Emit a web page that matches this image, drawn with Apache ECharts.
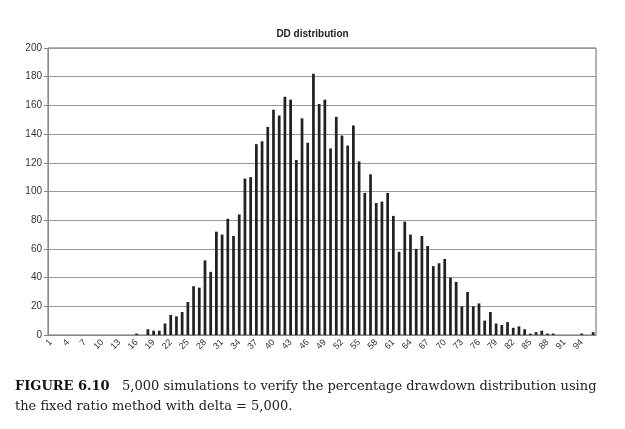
<!DOCTYPE html>
<html>
<head>
<meta charset="utf-8">
<script src="https://cdn.jsdelivr.net/npm/echarts@6/dist/echarts.min.js"></script>
<style>
  html, body { margin: 0; padding: 0; background: #fff; }
  #main { width: 625px; height: 429px; }
</style>
</head>
<body>
<div id="main"></div>
<script>
// drawdown buckets 1..96
var categories = [];
for (var i = 1; i <= 96; i++) categories.push(String(i));

// counts, bucket 1 first
var counts = [
  0, 0, 0, 0, 0, 0, 0, 0, 0, 0,
  0, 0, 0, 0, 0, 1, 0, 4, 3, 3,
  8, 14, 13, 16, 23, 34, 33, 52, 44, 72,
  70, 81, 69, 84, 109, 110, 133, 135, 145, 157,
  153, 166, 164, 122, 151, 134, 182, 161, 164, 130,
  152, 139, 132, 146, 121, 99, 112, 92, 93, 99,
  83, 58, 79, 70, 60, 69, 62, 48, 50, 53,
  40, 37, 20, 30, 20, 22, 10, 16, 8, 7,
  9, 5, 6, 4, 1, 2, 3, 1, 1, 0,
  0, 0, 0, 1, 0, 2
];

var yTicks = { min: 0, max: 200, step: 20 };

var chart = echarts.init(document.getElementById('main'));
var option = {
  animation: false,
  backgroundColor: '#fff',
  title: {
    text: 'DD distribution',
    left: 'center',
    top: 24,
    textStyle: { fontFamily: 'Liberation Sans', fontSize: 10, fontWeight: 'bold', color: '#222' }
  },
  grid: {
    left: 48, right: 29, top: 48, bottom: 94,
    show: true, borderColor: '#666', borderWidth: 1
  },
  xAxis: {
    type: 'category',
    data: categories,
    axisLine: { lineStyle: { color: '#888' } },
    axisTick: { interval: 0, length: 3, lineStyle: { color: '#888' } },
    axisLabel: {
      interval: 2,
      rotate: 45,
      fontFamily: 'Liberation Sans',
      fontSize: 9,
      color: '#333',
      margin: 6
    }
  },
  yAxis: {
    type: 'value',
    min: yTicks.min,
    max: yTicks.max,
    interval: yTicks.step,
    axisLine: { show: true, lineStyle: { color: '#888' } },
    axisTick: { show: true, length: 4, lineStyle: { color: '#888' } },
    splitLine: { lineStyle: { color: '#999' } },
    axisLabel: { fontFamily: 'Liberation Sans', fontSize: 10, color: '#333', margin: 6 }
  },
  series: [{
    type: 'bar',
    data: counts,
    barWidth: '48%',
    itemStyle: { color: '#222' }
  }],
  graphic: [{
    type: 'text',
    left: 15,
    top: 377,
    style: {
      text: '{b|FIGURE 6.10}   5,000 simulations to verify the percentage drawdown distribution using\nthe fixed ratio method with delta = 5,000.',
      font: '13px "DejaVu Serif"',
      fill: '#222',
      lineHeight: 20,
      rich: {
        b: { font: 'bold 13px "DejaVu Serif"', fill: '#111' }
      }
    }
  }]
};
chart.setOption(option);
</script>
</body>
</html>
